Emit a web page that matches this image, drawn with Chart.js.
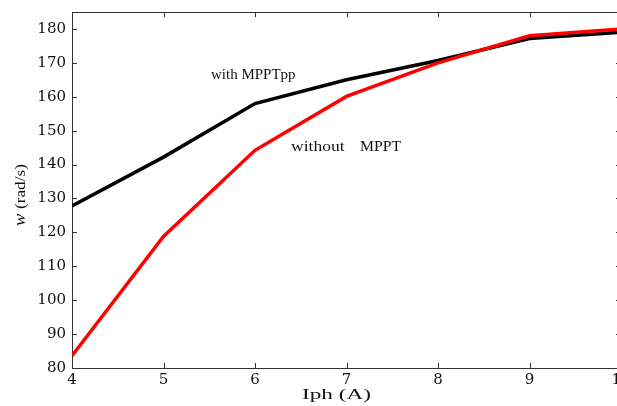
<!DOCTYPE html>
<html lang="en">
<head>
    <meta charset="UTF-8">
    <title>w vs Iph</title>
    <script src="https://cdn.jsdelivr.net/npm/chart.js"></script>
    <style>
        html, body { margin: 0; padding: 0; overflow: hidden; background: #fff; }
        #chart { display: block; }
    </style>
</head>
<body>
    <canvas id="chart" width="630" height="406"></canvas>

    <script>
        // values
        const iph = [4, 5, 6, 7, 8, 9, 10];
        const withMppt = [127.8, 142.2, 158, 165, 170.7, 177.2, 179];
        const withoutMppt = [83.6, 118.8, 144.2, 160.1, 170, 178, 180];
        const yTicks = [80, 90, 100, 110, 120, 130, 140, 150, 160, 170, 180];

        const serif = '"Liberation Serif", "DejaVu Serif", serif';
        const tickFont = '"DejaVu Serif", serif';
        const axisColor = '#333';

        // text with a horizontal stretch, left edge at x, middle at y
        function stretched(ctx, text, x, y, font, sx) {
            ctx.save();
            ctx.font = font;
            ctx.textAlign = 'left';
            ctx.textBaseline = 'middle';
            ctx.translate(x, y);
            ctx.scale(sx, 1);
            ctx.fillText(text, 0, 0);
            ctx.restore();
        }

        // small ticks pointing into the plot on all four sides, plus labels
        const innerTicks = {
            id: 'innerTicks',
            afterDraw(chart) {
                const ctx = chart.ctx;
                const a = chart.chartArea;
                const xs = chart.scales.x, ys = chart.scales.y;
                ctx.save();
                ctx.strokeStyle = axisColor;
                ctx.lineWidth = 1;
                ctx.beginPath();
                iph.forEach(v => {
                    const px = Math.round(xs.getPixelForValue(v)) + 0.5;
                    ctx.moveTo(px, a.bottom); ctx.lineTo(px, a.bottom - 5);
                    ctx.moveTo(px, a.top); ctx.lineTo(px, a.top + 5);
                });
                yTicks.forEach(v => {
                    const py = Math.round(ys.getPixelForValue(v)) + 0.5;
                    ctx.moveTo(a.left, py); ctx.lineTo(a.left + 5, py);
                    ctx.moveTo(a.right, py); ctx.lineTo(a.right - 5, py);
                });
                ctx.stroke();

                ctx.fillStyle = '#111';
                stretched(ctx, 'with MPPTpp', 211, 75, '15px ' + serif, 1.0);
                stretched(ctx, 'without', 291, 147, '15px ' + serif, 1.17);
                stretched(ctx, 'MPPT', 360, 147, '15px ' + serif, 1.05);

                // x title, wide like the original
                stretched(ctx, 'Iph (A)', 302, 395, '15px ' + serif, 1.55);

                // y title: italic w then (rad/s)
                ctx.translate(21, 195);
                ctx.rotate(-Math.PI / 2);
                ctx.textAlign = 'left';
                ctx.textBaseline = 'middle';
                ctx.scale(1.15, 1);
                ctx.font = 'italic 16px ' + serif;
                const w1 = ctx.measureText('w ').width;
                ctx.font = '15px ' + serif;
                const w2 = ctx.measureText('(rad/s)').width;
                let x0 = -(w1 + w2) / 2;
                ctx.font = 'italic 16px ' + serif;
                ctx.fillText('w ', x0, 0);
                ctx.font = '15px ' + serif;
                ctx.fillText('(rad/s)', x0 + w1, 0);
                ctx.restore();
            }
        };

        new Chart(document.getElementById('chart'), {
            type: 'line',
            data: {
                labels: iph,
                datasets: [{
                    label: 'without MPPT',
                    data: iph.map((x, i) => ({ x: x, y: withoutMppt[i] })),
                    borderColor: '#ff0000',
                    borderWidth: 3.5,
                    pointRadius: 0,
                    tension: 0
                }, {
                    label: 'with MPPTpp',
                    data: iph.map((x, i) => ({ x: x, y: withMppt[i] })),
                    borderColor: '#000000',
                    borderWidth: 3.5,
                    pointRadius: 0,
                    tension: 0
                }]
            },
            options: {
                responsive: false,
                animation: false,
                layout: { padding: { top: 12, right: 9, left: 0, bottom: 0 } },
                plugins: {
                    legend: { display: false },
                    tooltip: { enabled: false }
                },
                scales: {
                    x: {
                        type: 'linear',
                        min: 4,
                        max: 10,
                        afterFit: s => { s.height = 38; s.paddingLeft = 0; s.paddingRight = 0; },
                        afterBuildTicks: s => { s.ticks = iph.map(v => ({ value: v })); },
                        grid: { drawOnChartArea: false, drawTicks: false },
                        border: { color: axisColor, width: 1 },
                        ticks: { color: '#111', padding: 3, font: { family: tickFont, size: 15 } }
                    },
                    y: {
                        min: 80,
                        max: 185,
                        afterFit: s => { s.width = 72; s.paddingTop = 0; s.paddingBottom = 0; },
                        afterBuildTicks: s => { s.ticks = yTicks.map(v => ({ value: v })); },
                        grid: { drawOnChartArea: false, drawTicks: false },
                        border: { color: axisColor, width: 1 },
                        ticks: { color: '#111', padding: 6, font: { family: tickFont, size: 15 } }
                    },
                    x2: {
                        type: 'linear', position: 'top', min: 4, max: 10,
                        afterFit: s => { s.height = 0; s.paddingLeft = 0; s.paddingRight = 0; },
                        grid: { drawOnChartArea: false, drawTicks: false },
                        border: { color: axisColor, width: 1 },
                        ticks: { display: false }
                    },
                    y2: {
                        position: 'right', min: 80, max: 185,
                        afterFit: s => { s.width = 0; s.paddingTop = 0; s.paddingBottom = 0; },
                        grid: { drawOnChartArea: false, drawTicks: false },
                        border: { color: axisColor, width: 1 },
                        ticks: { display: false }
                    }
                }
            },
            plugins: [innerTicks]
        });
    </script>
</body>
</html>
